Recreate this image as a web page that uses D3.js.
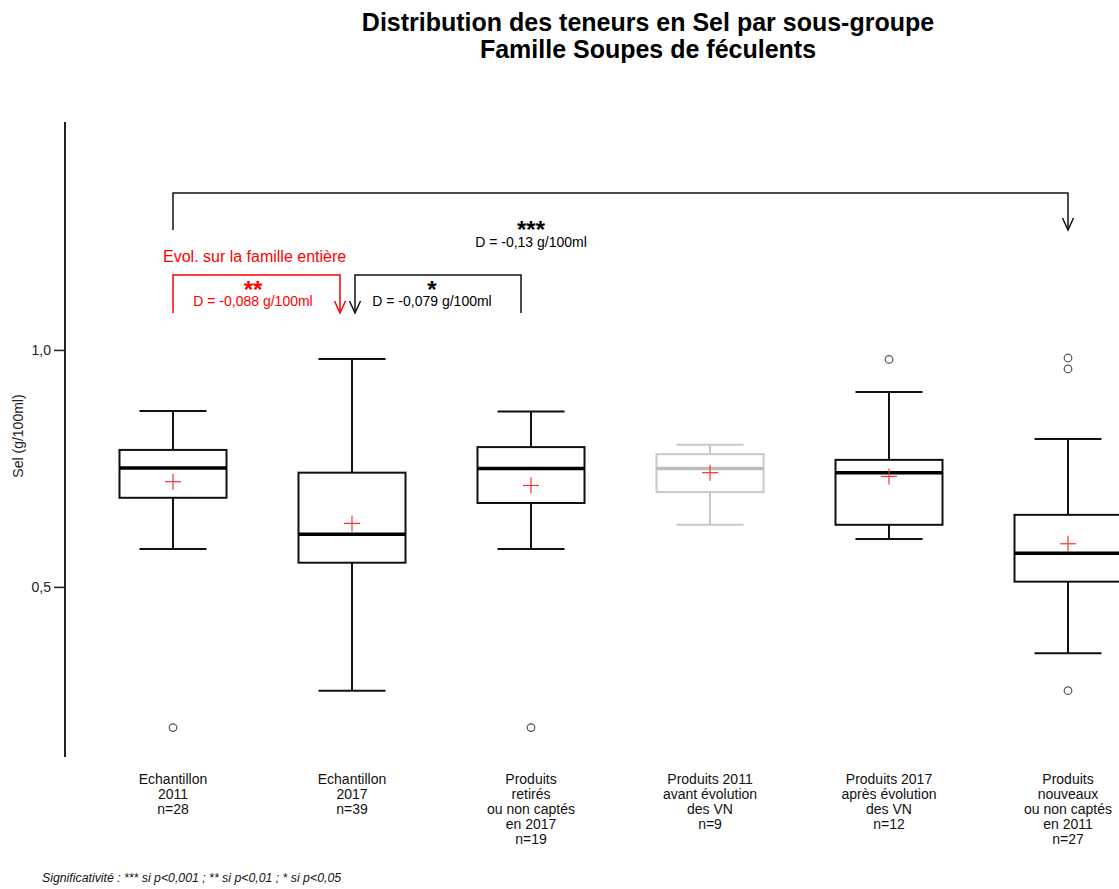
<!DOCTYPE html>
<html>
<head>
<meta charset="utf-8">
<script src="https://cdn.jsdelivr.net/npm/d3@7"></script>
<style>
  html, body { margin: 0; padding: 0; background: #fff; }
  svg { display: block; font-family: "Liberation Sans", Arial, sans-serif; }
</style>
</head>
<body>
<svg id="chart" width="1119" height="889"></svg>
<script>
// ---- Data ----
const categories = [
  ["Echantillon", "2011", "n=28"],
  ["Echantillon", "2017", "n=39"],
  ["Produits", "retirés", "ou non captés", "en 2017", "n=19"],
  ["Produits 2011", "avant évolution", "des VN", "n=9"],
  ["Produits 2017", "après évolution", "des VN", "n=12"],
  ["Produits", "nouveaux", "ou non captés", "en 2011", "n=27"]
];
const groupIds = ["E2011", "E2017", "Retires", "P2011", "P2017", "Nouveaux"];
const whiskerLow  = [0.580, 0.281, 0.580, 0.631, 0.601, 0.360];
const q1          = [0.688, 0.551, 0.677, 0.700, 0.631, 0.511];
const median      = [0.751, 0.611, 0.750, 0.750, 0.741, 0.571];
const q3          = [0.789, 0.741, 0.795, 0.780, 0.768, 0.652];
const whiskerHigh = [0.871, 0.981, 0.870, 0.800, 0.911, 0.812];
const means       = [0.722, 0.634, 0.714, 0.741, 0.733, 0.591];
const outliers    = [[0.203], [], [0.203], [], [0.980], [0.983, 0.960, 0.281]];
const greyed      = [false, false, false, true, false, false];
const yTicks = [0.5, 1.0];
const yDomain = [0.141, 1.481];

// ---- Layout ----
const svg = d3.select("#chart");
const W = 1119, H = 889;
const y = d3.scaleLinear().domain([yDomain[0], yDomain[1]]).range([757, 122]);
const x = d3.scaleBand().domain(groupIds).range([83.5, 83.5 + 179 * 6]).padding(0);
const cx = id => x(id) + x.bandwidth() / 2;
const boxHalf = 53.5, capHalf = 33.5;

// Title
const title = svg.append("g").attr("font-weight", "bold").attr("font-size", 25).attr("text-anchor", "middle").attr("fill", "#000");
title.append("text").attr("x", 648).attr("y", 31).text("Distribution des teneurs en Sel par sous-groupe");
title.append("text").attr("x", 648).attr("y", 58).text("Famille Soupes de féculents");

// Y axis
const yAxis = d3.axisLeft(y).tickValues(yTicks).tickSize(11).tickPadding(3)
  .tickFormat(d => d3.format(".1f")(d).replace(".", ","));
const ga = svg.append("g").attr("transform", "translate(65,0)").call(yAxis);
ga.select(".domain").remove();
ga.append("line").attr("x1", 0).attr("x2", 0).attr("y1", 122).attr("y2", 757).attr("stroke", "#222").attr("stroke-width", 2);
ga.selectAll(".tick line").attr("stroke", "#222").attr("stroke-width", 1.5);
ga.selectAll(".tick text").attr("font-size", 14).attr("fill", "#222").attr("font-family", "Liberation Sans, Arial, sans-serif");

svg.append("text").attr("transform", "translate(23,436) rotate(-90)").attr("text-anchor", "middle")
  .attr("font-size", 14).attr("fill", "#222").text("Sel (g/100ml)");

// Boxes
svg.append("defs").append("clipPath").attr("id", "clipArea")
  .append("rect").attr("x", 0).attr("y", 0).attr("width", W).attr("height", H);

const boxes = svg.append("g").attr("clip-path", "url(#clipArea)");
groupIds.forEach((id, i) => {
  const c = cx(id);
  const col = greyed[i] ? "#c8c8c8" : "#111";
  const g = boxes.append("g");
  g.append("line").attr("x1", c).attr("x2", c).attr("y1", y(q3[i])).attr("y2", y(whiskerHigh[i])).attr("stroke", col).attr("stroke-width", 2);
  g.append("line").attr("x1", c).attr("x2", c).attr("y1", y(q1[i])).attr("y2", y(whiskerLow[i])).attr("stroke", col).attr("stroke-width", 2);
  g.append("line").attr("x1", c - capHalf).attr("x2", c + capHalf).attr("y1", y(whiskerHigh[i])).attr("y2", y(whiskerHigh[i])).attr("stroke", col).attr("stroke-width", 2);
  g.append("line").attr("x1", c - capHalf).attr("x2", c + capHalf).attr("y1", y(whiskerLow[i])).attr("y2", y(whiskerLow[i])).attr("stroke", col).attr("stroke-width", 2);
  g.append("rect").attr("x", c - boxHalf).attr("y", y(q3[i])).attr("width", boxHalf * 2).attr("height", y(q1[i]) - y(q3[i]))
    .attr("fill", "#fff").attr("stroke", col).attr("stroke-width", 2);
  g.append("line").attr("x1", c - boxHalf).attr("x2", c + boxHalf).attr("y1", y(median[i])).attr("y2", y(median[i]))
    .attr("stroke", greyed[i] ? "#bdbdbd" : "#000").attr("stroke-width", 3.5);
  const my = y(means[i]);
  g.append("line").attr("x1", c - 8).attr("x2", c + 8).attr("y1", my).attr("y2", my).attr("stroke", "#ff3030").attr("stroke-width", 1.2);
  g.append("line").attr("x1", c).attr("x2", c).attr("y1", my - 8).attr("y2", my + 8).attr("stroke", "#ff3030").attr("stroke-width", 1.2);
  outliers[i].forEach(v => {
    g.append("circle").attr("cx", c).attr("cy", y(v)).attr("r", 3.8).attr("fill", "none").attr("stroke", "#555").attr("stroke-width", 1.2);
  });
});

// Annotations (brackets)
function arrowHead(g, ax, ay, col) {
  g.append("path").attr("d", `M${ax - 5.5},${ay - 12} L${ax},${ay} L${ax + 5.5},${ay - 12}`)
    .attr("fill", "none").attr("stroke", col).attr("stroke-width", 1.5);
}
const ann = svg.append("g").attr("font-family", "Liberation Sans, Arial, sans-serif");
{
  const x1 = cx("E2011"), x2 = cx("Nouveaux"), top = 193, bot = 230;
  ann.append("path").attr("d", `M${x1},${bot} L${x1},${top} L${x2},${top} L${x2},${bot}`)
    .attr("fill", "none").attr("stroke", "#111").attr("stroke-width", 1.5);
  arrowHead(ann, x2, bot, "#111");
  ann.append("text").attr("x", 531).attr("y", 238).attr("text-anchor", "middle").attr("font-size", 24).attr("font-weight", "bold").text("***");
  ann.append("text").attr("x", 531).attr("y", 247).attr("text-anchor", "middle").attr("font-size", 14).text("D = -0,13 g/100ml");
}
{
  const x1 = cx("E2011"), x2 = 340, top = 275, bot = 313, col = "#ff0000";
  ann.append("text").attr("x", 163).attr("y", 262).attr("font-size", 16).attr("fill", col).text("Evol. sur la famille entière");
  ann.append("path").attr("d", `M${x1},${bot} L${x1},${top} L${x2},${top} L${x2},${bot}`)
    .attr("fill", "none").attr("stroke", col).attr("stroke-width", 1.5);
  arrowHead(ann, x2, bot, col);
  ann.append("text").attr("x", 253).attr("y", 298).attr("text-anchor", "middle").attr("font-size", 24).attr("font-weight", "bold").attr("fill", col).text("**");
  ann.append("text").attr("x", 253).attr("y", 306).attr("text-anchor", "middle").attr("font-size", 14).attr("fill", col).text("D = -0,088 g/100ml");
}
{
  const x1 = 355, x2 = 521, top = 275, bot = 313, col = "#111";
  ann.append("path").attr("d", `M${x1},${bot} L${x1},${top} L${x2},${top} L${x2},${bot}`)
    .attr("fill", "none").attr("stroke", col).attr("stroke-width", 1.5);
  arrowHead(ann, x1, bot, col);
  ann.append("text").attr("x", 432).attr("y", 298).attr("text-anchor", "middle").attr("font-size", 24).attr("font-weight", "bold").text("*");
  ann.append("text").attr("x", 432).attr("y", 306).attr("text-anchor", "middle").attr("font-size", 14).text("D = -0,079 g/100ml");
}

// X labels
const xl = svg.append("g").attr("font-size", 14).attr("fill", "#111").attr("text-anchor", "middle");
groupIds.forEach((id, i) => {
  const t = xl.append("text").attr("x", cx(id)).attr("y", 784);
  categories[i].forEach((line, k) => {
    t.append("tspan").attr("x", cx(id)).attr("dy", k === 0 ? 0 : 15).text(line);
  });
});

// Footnote
svg.append("text").attr("x", 42).attr("y", 882).attr("font-size", 12.3).attr("font-style", "italic").attr("fill", "#111")
  .text("Significativité : *** si p<0,001 ; ** si p<0,01 ; * si p<0,05");
</script>
</body>
</html>
